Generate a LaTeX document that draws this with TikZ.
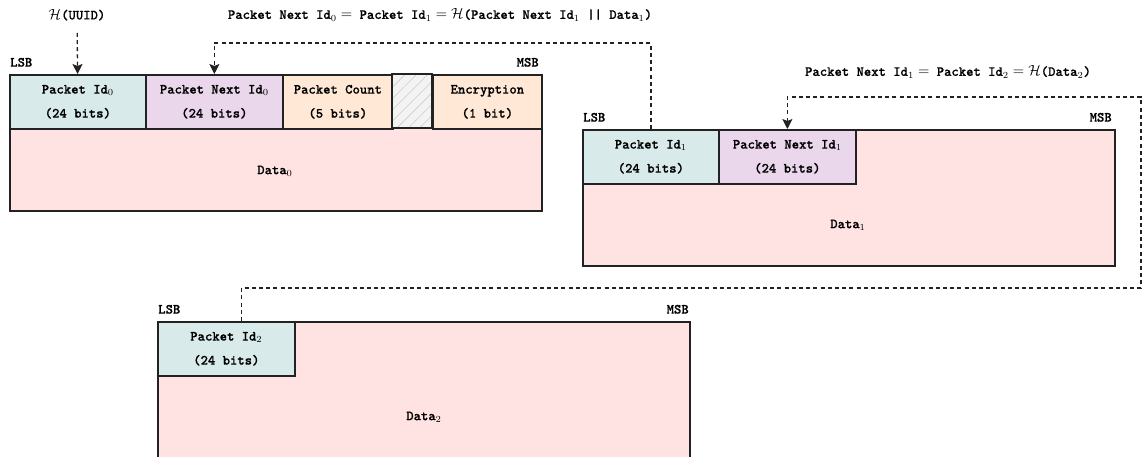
\documentclass[tikz,border=0pt]{standalone}
\usepackage{fontspec}
\newfontfamily\ttbold{lmmonolt10-bold}[Extension=.otf, FakeBold=0.6]
\usetikzlibrary{arrows.meta,patterns.meta,calc}
\definecolor{lc}{HTML}{222222}
\definecolor{idfill}{HTML}{D8EAE9}
\definecolor{nxfill}{HTML}{EAD7EB}
\definecolor{orfill}{HTML}{FFE9D6}
\definecolor{datafill}{HTML}{FFE3E3}
\definecolor{padfill}{HTML}{F3F3F3}
\begin{document}
\begin{tikzpicture}[x=0.75pt,y=-0.75pt,
  txt/.style={font=\fontsize{10.5}{18}\selectfont\ttbold, inner sep=0pt, align=center},
  cell/.style={txt, rectangle, draw=lc, line width=1.3pt, anchor=north west, minimum height={54*0.75pt}},
  bgbox/.style={rectangle, draw=lc, line width=1.3pt, fill=datafill, anchor=north west, inner sep=0pt, minimum width={532*0.75pt}, minimum height={136*0.75pt}},
  dline/.style={draw=lc, line width=1pt, dash pattern=on 3pt off 2.4pt},
  darrow/.style={dline, -{Stealth[length=7.5pt,width=7.5pt,inset=1.5pt]}},
]
\useasboundingbox (0,0) rectangle (1143,457);

% ---------- Packet 0 ----------
\node[bgbox] (bg0) at (9,74) {};
\node[cell, fill=idfill, minimum width={136*0.75pt}] (id0) at (9,74) {Packet Id$_0$\\(24 bits)};
\node[cell, fill=nxfill, minimum width={137*0.75pt}] (nx0) at (145,74) {Packet Next Id$_0$\\(24 bits)};
\node[cell, fill=orfill, minimum width={110*0.75pt}] (cnt0) at (282,74) {Packet Count\\(5 bits)};
\node[cell, preaction={fill=padfill}, pattern={Lines[angle=45,distance=6pt,line width=0.45pt]}, pattern color=gray!40, minimum width={40*0.75pt}] (pad0) at (392,74) {};
\node[cell, fill=orfill, minimum width={109*0.75pt}] (enc0) at (432,74) {Encryption\\(1 bit)};
\node[txt] (data0) at (275,171) {Data$_0$};
\node[txt, anchor=south west] (lsb0) at (10,67) {LSB};
\node[txt, anchor=south east] (msb0) at (539,67) {MSB};

% ---------- Packet 1 ----------
\node[bgbox] (bg1) at (582,129) {};
\node[cell, fill=idfill, minimum width={136*0.75pt}] (id1) at (582,129) {Packet Id$_1$\\(24 bits)};
\node[cell, fill=nxfill, minimum width={137*0.75pt}] (nx1) at (718,129) {Packet Next Id$_1$\\(24 bits)};
\node[txt] (data1) at (848,225) {Data$_1$};
\node[txt, anchor=south west] (lsb1) at (583,122) {LSB};
\node[txt, anchor=south east] (msb1) at (1112,122) {MSB};

% ---------- Packet 2 ----------
\node[bgbox] (bg2) at (157,321) {};
\node[cell, fill=idfill, minimum width={137*0.75pt}] (id2) at (157,321) {Packet Id$_2$\\(24 bits)};
\node[txt] (data2) at (424,417) {Data$_2$};
\node[txt, anchor=south west] (lsb2) at (158,314) {LSB};
\node[txt, anchor=south east] (msb2) at (689,314) {MSB};

% ---------- Labels ----------
\node[txt] (huuid) at (77,15) {$\mathcal{H}$(UUID)};
\node[txt] (eq1) at (440,15) {Packet Next Id$_0 =$ Packet Id$_1 = \mathcal{H}$(Packet Next Id$_1$ || Data$_1$)};
\node[txt] (eq2) at (948,72) {Packet Next Id$_1 =$ Packet Id$_2 = \mathcal{H}$(Data$_2$)};

% ---------- Connectors ----------
\coordinate (k1) at (0,43);
\coordinate (k2) at (1141,288);
\coordinate (k3) at (0,97);
\coordinate (id2t) at ($(id2.north west)!0.61!(id2.north east)$);

\draw[darrow, shorten <=9pt] (huuid) -- (id0);
\draw[darrow] (id1.north) -- (id1.north |- k1) -| (nx0.north);
\draw[darrow] (id2t) |- (k2) -- (k2 |- k3) -| (nx1.north);
\end{tikzpicture}
\end{document}
